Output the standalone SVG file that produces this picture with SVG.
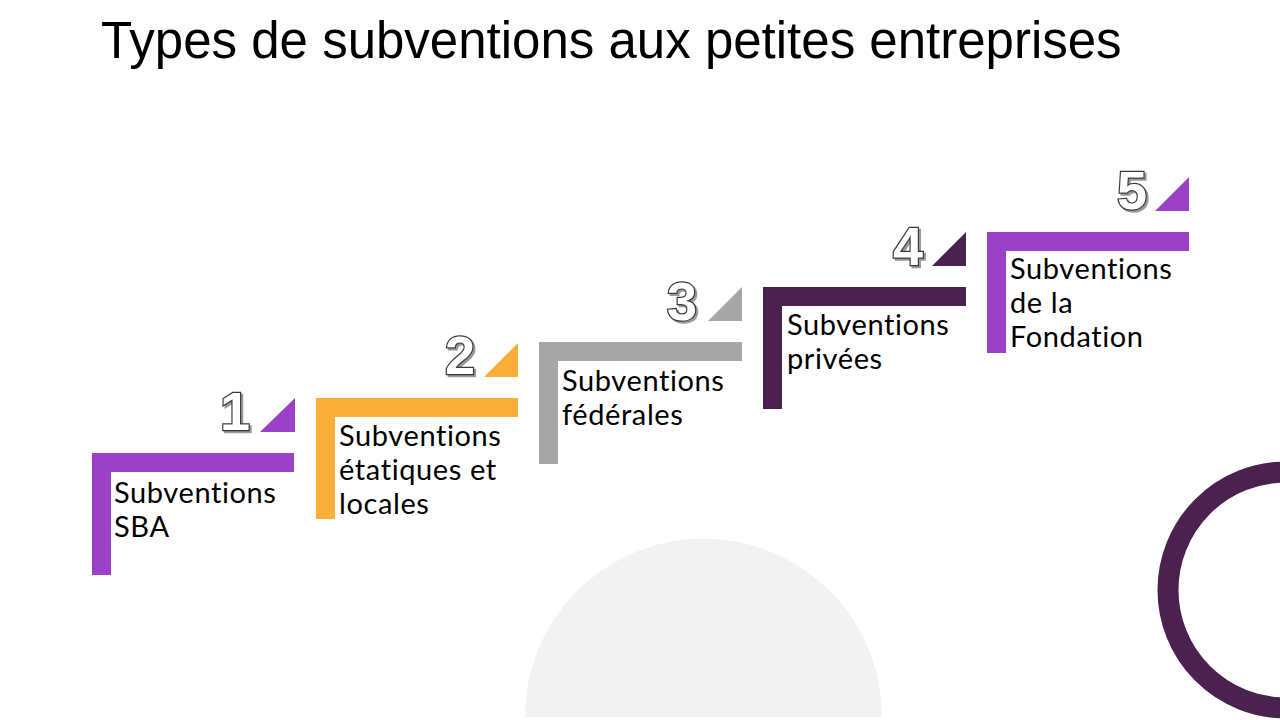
<svg xmlns="http://www.w3.org/2000/svg" width="1280" height="720" viewBox="0 0 1280 720">
<defs>
<style>
.title{font-family:"Liberation Sans",Arial,sans-serif;font-size:51px;fill:#000}
.lbl{font-family:Lato,"Open Sans",sans-serif;font-size:29px;letter-spacing:0.6px;fill:#000}
.num{font-family:"Liberation Sans",Arial,sans-serif;font-weight:bold;font-size:54px;text-anchor:end;fill:#fff;stroke:#3a3a3a;stroke-width:2.4px;paint-order:stroke}
.numsh{font-family:"Liberation Sans",Arial,sans-serif;font-weight:bold;font-size:54px;text-anchor:end;fill:#9a9a9a;stroke:#9a9a9a;stroke-width:2.4px}
.purple{fill:#9b41c8}
.orange{fill:#fcae3a}
.grey{fill:#a6a6a6}
.dark{fill:#4b2150}
</style>
</defs>
<rect width="1280" height="720" fill="#fff"/>
<path d="M525,717 A178.5,178.5 0 0 1 882,717 Z" fill="#f2f2f2"/>
<circle cx="1286" cy="590" r="118" fill="none" stroke="#4b2150" stroke-width="21"/>
<text class="title" x="101" y="58">Types de subventions aux petites entreprises</text>

<g id="step1">
<path class="purple" d="M92,453 H294 V472 H111 V575 H92 Z"/>
<polygon class="purple" points="260,432 295,432 295,398"/>
<text class="numsh" x="252" y="432">1</text>
<text class="num" x="250" y="430">1</text>
<text class="lbl" x="114" y="503">Subventions</text>
<text class="lbl" x="114" y="537">SBA</text>
</g>

<g id="step2">
<path class="orange" d="M316,398 H518 V417 H335 V519 H316 Z"/>
<polygon class="orange" points="484,377 518,377 518,343"/>
<text class="numsh" x="477" y="376">2</text>
<text class="num" x="475" y="374">2</text>
<text class="lbl" x="339" y="446">Subventions</text>
<text class="lbl" x="339" y="480">étatiques et</text>
<text class="lbl" x="339" y="514">locales</text>
</g>

<g id="step3">
<path class="grey" d="M539,342 H742 V361 H558 V464 H539 Z"/>
<polygon class="grey" points="708,321 742,321 742,287"/>
<text class="numsh" x="699" y="322">3</text>
<text class="num" x="697" y="320">3</text>
<text class="lbl" x="562" y="391">Subventions</text>
<text class="lbl" x="562" y="425">fédérales</text>
</g>

<g id="step4">
<path class="dark" d="M763,287 H966 V306 H782 V409 H763 Z"/>
<polygon class="dark" points="932,266 966,266 966,232"/>
<text class="numsh" x="925" y="267">4</text>
<text class="num" x="923" y="265">4</text>
<text class="lbl" x="787" y="335">Subventions</text>
<text class="lbl" x="787" y="369">privées</text>
</g>

<g id="step5">
<path class="purple" d="M987,232 H1189 V251 H1006 V353 H987 Z"/>
<polygon class="purple" points="1155,211 1189,211 1189,177"/>
<text class="numsh" x="1149" y="211">5</text>
<text class="num" x="1147" y="209">5</text>
<text class="lbl" x="1010" y="279">Subventions</text>
<text class="lbl" x="1010" y="313">de la</text>
<text class="lbl" x="1010" y="347">Fondation</text>
</g>

<g id="connectors"></g>
</svg>
